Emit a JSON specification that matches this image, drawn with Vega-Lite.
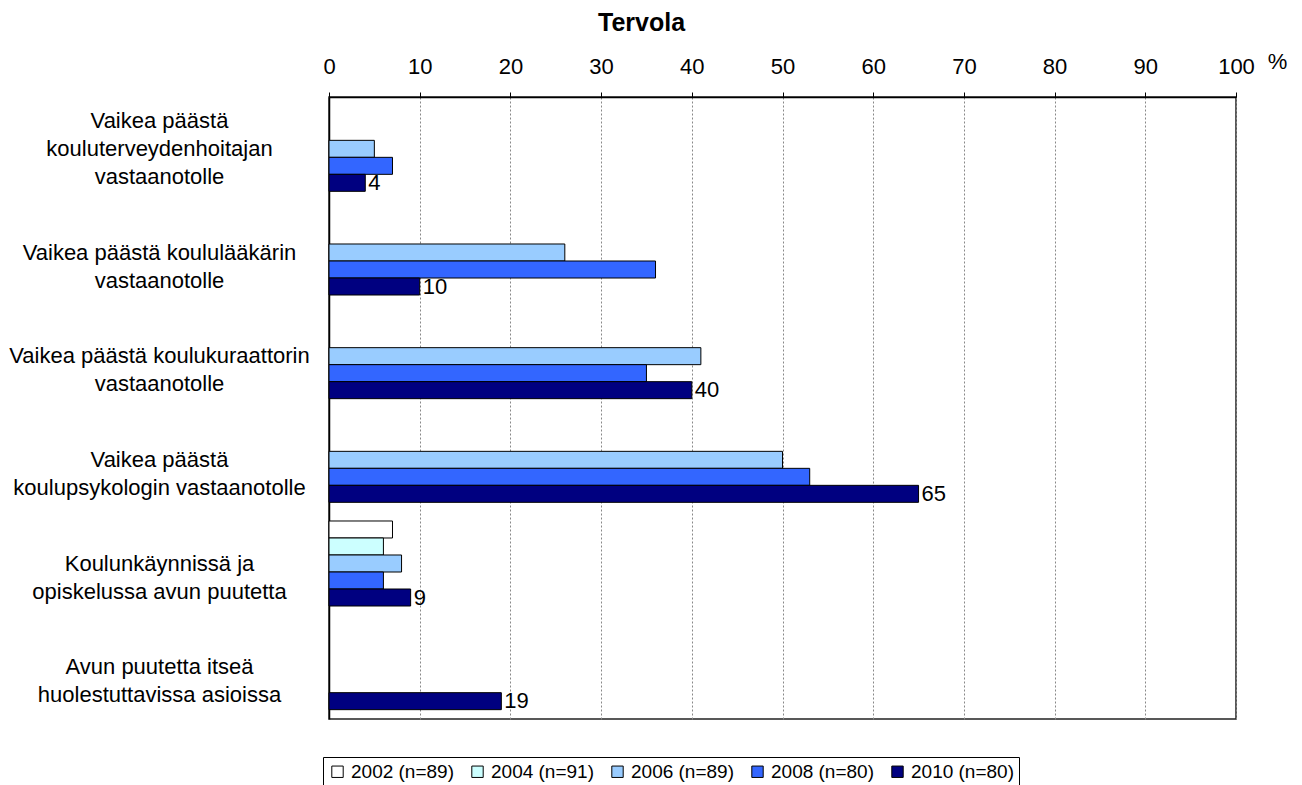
{
  "$schema": "https://vega.github.io/schema/vega-lite/v6.json",
  "autosize": "none",
  "width": 907,
  "height": 622,
  "padding": {"left": 329, "top": 97, "right": 66, "bottom": 66},
  "background": "white",
  "config": {
    "font": "Liberation Sans",
    "view": {"stroke": "#222", "strokeWidth": 1.5}
  },
  "title": {
    "text": "Tervola",
    "fontSize": 25,
    "fontWeight": "bold",
    "font": "Liberation Sans",
    "color": "black",
    "anchor": "middle",
    "dx": -141,
    "offset": 14
  },
  "data": {
    "values": [
      {"cat": "Vaikea päästä|kouluterveydenhoitajan|vastaanotolle", "year": "2006 (n=89)", "value": 5},
      {"cat": "Vaikea päästä|kouluterveydenhoitajan|vastaanotolle", "year": "2008 (n=80)", "value": 7},
      {"cat": "Vaikea päästä|kouluterveydenhoitajan|vastaanotolle", "year": "2010 (n=80)", "value": 4},
      {"cat": "Vaikea päästä koululääkärin|vastaanotolle", "year": "2006 (n=89)", "value": 26},
      {"cat": "Vaikea päästä koululääkärin|vastaanotolle", "year": "2008 (n=80)", "value": 36},
      {"cat": "Vaikea päästä koululääkärin|vastaanotolle", "year": "2010 (n=80)", "value": 10},
      {"cat": "Vaikea päästä koulukuraattorin|vastaanotolle", "year": "2006 (n=89)", "value": 41},
      {"cat": "Vaikea päästä koulukuraattorin|vastaanotolle", "year": "2008 (n=80)", "value": 35},
      {"cat": "Vaikea päästä koulukuraattorin|vastaanotolle", "year": "2010 (n=80)", "value": 40},
      {"cat": "Vaikea päästä|koulupsykologin vastaanotolle", "year": "2006 (n=89)", "value": 50},
      {"cat": "Vaikea päästä|koulupsykologin vastaanotolle", "year": "2008 (n=80)", "value": 53},
      {"cat": "Vaikea päästä|koulupsykologin vastaanotolle", "year": "2010 (n=80)", "value": 65},
      {"cat": "Koulunkäynnissä ja|opiskelussa avun puutetta", "year": "2002 (n=89)", "value": 7},
      {"cat": "Koulunkäynnissä ja|opiskelussa avun puutetta", "year": "2004 (n=91)", "value": 6},
      {"cat": "Koulunkäynnissä ja|opiskelussa avun puutetta", "year": "2006 (n=89)", "value": 8},
      {"cat": "Koulunkäynnissä ja|opiskelussa avun puutetta", "year": "2008 (n=80)", "value": 6},
      {"cat": "Koulunkäynnissä ja|opiskelussa avun puutetta", "year": "2010 (n=80)", "value": 9},
      {"cat": "Avun puutetta itseä|huolestuttavissa asioissa", "year": "2010 (n=80)", "value": 19}
    ]
  },
  "encoding": {
    "y": {
      "field": "cat",
      "type": "nominal",
      "sort": null,
      "scale": {"paddingInner": 0.18, "paddingOuter": 0.09},
      "axis": {
        "title": null,
        "ticks": false,
        "domain": true,
        "domainColor": "black",
        "domainWidth": 1.5,
        "labelExpr": "split(datum.label, '|')",
        "labelAlign": "center",
        "labelBaseline": "middle",
        "labelPadding": 170,
        "labelOffset": {"condition": {"test": "indexof(datum.label, 'kouluterveyden') >= 0", "value": -28}, "value": 0},
        "labelFontSize": 22,
        "labelLineHeight": 28,
        "labelColor": "black",
        "labelLimit": 400
      }
    },
    "yOffset": {
      "field": "year",
      "type": "nominal",
      "scale": {"domain": ["2002 (n=89)", "2004 (n=91)", "2006 (n=89)", "2008 (n=80)", "2010 (n=80)"], "paddingInner": 0, "paddingOuter": 0}
    },
    "x": {
      "field": "value",
      "type": "quantitative",
      "scale": {"domain": [0, 100], "nice": false},
      "axis": {
        "orient": "top",
        "values": [0, 10, 20, 30, 40, 50, 60, 70, 80, 90, 100],
        "title": "%",
        "titleAngle": 0,
        "titleX": 948,
        "titleY": -36,
        "titleAlign": "center",
        "titleBaseline": "middle",
        "titleFontWeight": "normal",
        "titleFontSize": 22,
        "titleColor": "black",
        "labelFontSize": 22,
        "labelFlush": false,
        "labelColor": "black",
        "labelPadding": 14,
        "tickSize": 5,
        "tickColor": "black",
        "domainColor": "black",
        "domainWidth": 1.5,
        "grid": true,
        "gridColor": "#888",
        "gridDash": [2, 2],
        "gridWidth": 1
      }
    }
  },
  "layer": [
    {
      "mark": {"type": "bar", "stroke": "black", "strokeWidth": 1},
      "encoding": {
        "color": {
          "field": "year",
          "type": "nominal",
          "scale": {
            "domain": ["2002 (n=89)", "2004 (n=91)", "2006 (n=89)", "2008 (n=80)", "2010 (n=80)"],
            "range": ["#FFFFFF", "#CCFFFF", "#99CCFF", "#3366FF", "#000080"]
          },
          "legend": {
            "title": null,
            "orient": "none",
            "direction": "horizontal",
            "legendX": -6,
            "legendY": 660,
            "symbolType": "square",
            "symbolSize": 130,
            "symbolStrokeColor": "black",
            "symbolStrokeWidth": 1,
            "symbolOpacity": 1,
            "labelFontSize": 19,
            "labelColor": "black",
            "labelOffset": 4,
            "columnPadding": 14,
            "strokeColor": "black",
            "padding": 5
          }
        }
      }
    },
    {
      "transform": [{"filter": "datum.year == '2010 (n=80)'"}],
      "mark": {"type": "text", "align": "left", "baseline": "middle", "dx": 3, "fontSize": 22, "color": "black"},
      "encoding": {"text": {"field": "value", "type": "quantitative"}}
    }
  ]
}
